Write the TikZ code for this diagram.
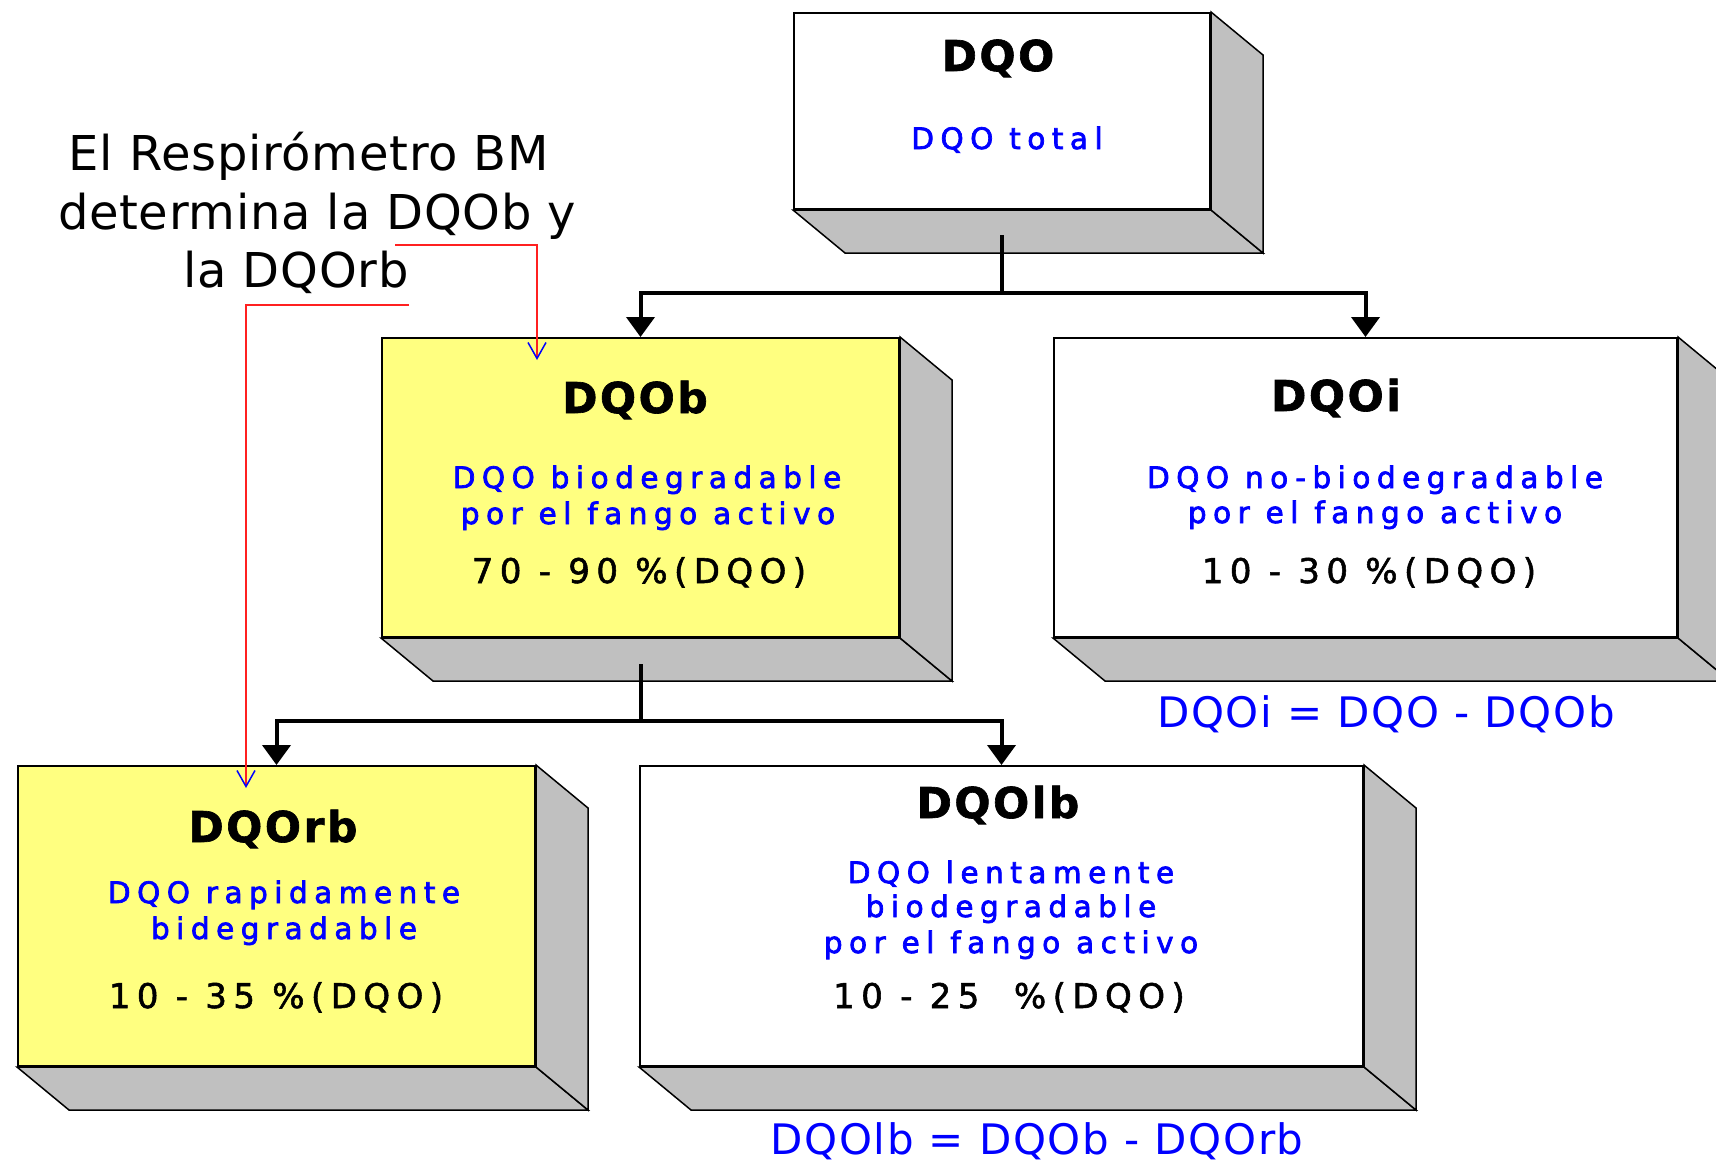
\documentclass[tikz,border=0pt]{standalone}
\usepackage{fontspec}
\setmainfont{DejaVu Sans}
\newfontfamily\titlefont[LetterSpace=6,FakeBold=1.5]{DejaVu Sans}
\newfontfamily\bluefont[LetterSpace=22,FakeBold=2.4]{DejaVu Sans}
\newfontfamily\pctfont[LetterSpace=19,FakeBold=1.6]{DejaVu Sans}
\newfontfamily\formulafont[LetterSpace=4]{DejaVu Sans}
\newfontfamily\annotfont[LetterSpace=1.5]{DejaVu Sans}
\usetikzlibrary{arrows.meta}

\definecolor{boxyellow}{HTML}{FFFF80}
\definecolor{facegray}{HTML}{C0C0C0}
\definecolor{textblue}{HTML}{0000FF}
\definecolor{linkred}{HTML}{FF2020}

% bottom and right faces of a raised box, attached to the front node #1
\newcommand\depthfaces[1]{%
  \filldraw[face] (#1.south west) -- (#1.south east)
    -- ([shift={(52pt,-43pt)}]#1.south east)
    -- ([shift={(52pt,-43pt)}]#1.south west) -- cycle;
  \filldraw[face] (#1.north east) -- ([shift={(52pt,-43pt)}]#1.north east)
    -- ([shift={(52pt,-43pt)}]#1.south east) -- (#1.south east) -- cycle;
}

\begin{document}
\begin{tikzpicture}[x=1pt,y=-1pt,
  front/.style={draw=black, line width=2pt, anchor=north west, inner sep=0pt, fill=white},
  yellowfront/.style={front, fill=boxyellow},
  face/.style={fill=facegray, draw=black, line width=1.5pt},
  conn/.style={draw=black, line width=4pt},
  arrowed/.style={-{Triangle[length=20pt,width=28pt]}},
  redline/.style={draw=linkred, line width=2pt,
    -{Straight Barb[textblue,length=16pt,width=18pt,line width=1.5pt]}},
  titletext/.style={anchor=base, inner sep=0pt, font=\titlefont\bfseries\fontsize{42.5}{50}\selectfont},
  bluetext/.style={anchor=base, inner sep=0pt, text=textblue, font=\bluefont\fontsize{29.5}{35}\selectfont},
  pcttext/.style={anchor=base, inner sep=0pt, font=\pctfont\fontsize{34}{40}\selectfont},
  formula/.style={anchor=base, inner sep=0pt, text=textblue, font=\formulafont\fontsize{42}{50}\selectfont},
  annot/.style={anchor=base, inner sep=0pt, font=\annotfont\fontsize{48}{56}\selectfont},
]
\useasboundingbox (0,0) rectangle (1716,1162);
\clip (0,0) rectangle (1716,1162);
\fill[white] (0,0) rectangle (1716,1162);

% front faces of the boxes
\node[front, minimum width=416pt, minimum height=196pt] (dqo) at (793,12) {};
\node[yellowfront, minimum width=517pt, minimum height=299pt] (dqob) at (381,337) {};
\node[front, minimum width=623pt, minimum height=299pt] (dqoi) at (1053,337) {};
\node[yellowfront, minimum width=517pt, minimum height=300pt] (dqorb) at (17,765) {};
\node[front, minimum width=723pt, minimum height=300pt] (dqolb) at (639,765) {};

\depthfaces{dqo}
\depthfaces{dqob}
\depthfaces{dqoi}
\depthfaces{dqorb}
\depthfaces{dqolb}

% tree connectors
\coordinate (hub1) at (dqo.south |- 0,293);
\draw[conn] ([yshift=-25pt]dqo.south) -- (hub1);
\draw[conn,arrowed] (hub1) -| (dqob.north);
\draw[conn,arrowed] (hub1) -| (dqoi.north);

\coordinate (hub2) at (dqob.south |- 0,721);
\draw[conn] ([yshift=-26pt]dqob.south) -- (hub2);
\draw[conn,arrowed] (hub2) -| (dqorb.north);
\draw[conn,arrowed] (hub2) -| (dqolb.north);

% box texts
\node[titletext] (t-dqo) at (998,71) {DQO};
\node[bluetext] (b-dqo) at (1007,149) {DQO total};

\node[titletext] (t-dqob) at (635,413) {DQOb};
\node[bluetext] (b-dqob1) at (647,488) {DQO biodegradable};
\node[bluetext] (b-dqob2) at (648,524) {por el fango activo};
\node[pcttext] (p-dqob) at (639,583) {70 - 90 \%(DQO)};

\node[titletext] (t-dqoi) at (1336,411) {DQOi};
\node[bluetext] (b-dqoi1) at (1375,488) {DQO no-biodegradable};
\node[bluetext] (b-dqoi2) at (1375,523) {por el fango activo};
\node[pcttext] (p-dqoi) at (1369,583) {10 - 30 \%(DQO)};

\node[titletext] (t-dqorb) at (273,842) {DQOrb};
\node[bluetext] (b-dqorb1) at (284,903) {DQO rapidamente};
\node[bluetext] (b-dqorb2) at (284,939) {bidegradable};
\node[pcttext] (p-dqorb) at (276,1008) {10 - 35 \%(DQO)};

\node[titletext] (t-dqolb) at (998,818) {DQOlb};
\node[bluetext] (b-dqolb1) at (1011,883) {DQO lentamente};
\node[bluetext] (b-dqolb2) at (1011,917) {biodegradable};
\node[bluetext] (b-dqolb3) at (1011,953) {por el fango activo};
\node[pcttext] (p-dqolb) at (1009,1008) {10 - 25\ \ \%(DQO)};

% relations below the boxes
\node[formula] (f-dqoi) at (1386,727) {DQOi = DQO - DQOb};
\node[formula] (f-dqolb) at (1037,1154) {DQOlb = DQOb - DQOrb};

% respirometer note and its pointers
\node[annot] (note1) at (309,170) {El Respirómetro BM};
\node[annot] (note2) at (317,229) {determina la DQOb y};
\node[annot] (note3) at (296,287) {la DQOrb};

\coordinate (rs1) at (395,245);
\coordinate (rs2) at (409,305);
\draw[redline] (rs1) -| ([xshift=156pt,yshift=-23pt]dqob.north west);
\draw[redline] (rs2) -| ([xshift=229pt,yshift=-23pt]dqorb.north west);
\end{tikzpicture}
\end{document}
